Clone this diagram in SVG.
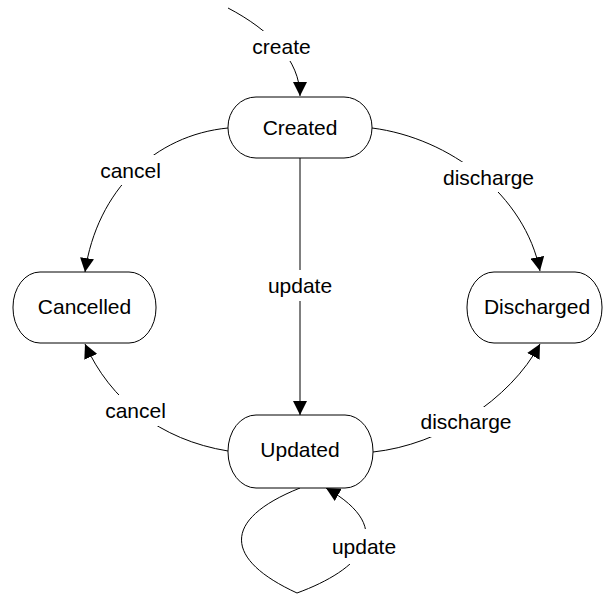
<svg xmlns="http://www.w3.org/2000/svg" width="603" height="594" viewBox="0 0 603 594">
  <defs>
    <marker id="arrow" markerUnits="userSpaceOnUse" markerWidth="14" markerHeight="14" refX="14" refY="7" orient="auto">
      <path d="M0,0 L14,7 L0,14 z" fill="#000"/>
    </marker>
    <style>
      .state { fill: #fff; stroke: #000; stroke-width: 1; }
      .name { font-family: "Liberation Sans", Arial, sans-serif; font-size: 21px; fill: #000; text-anchor: middle; }
      .edge { fill: none; stroke: #000; stroke-width: 1; marker-end: url(#arrow); }
      .lblbg { fill: #fff; }
      .lbl { font-family: "Liberation Sans", Arial, sans-serif; font-size: 21px; fill: #000; text-anchor: middle; }
    </style>
  </defs>
  <rect width="603" height="594" fill="#fff"/>

  <!-- transitions -->
  <g id="edges">
    <path class="edge" d="M228,8 C270,30 300,60 300,96"/>
    <path class="edge" d="M228,128 C155,135 97,190 85,272"/>
    <path class="edge" d="M372,128 C450,138 525,195 540,271"/>
    <path class="edge" d="M300,158 L300,415"/>
    <path class="edge" d="M228,451 C160,440 110,400 85,344"/>
    <path class="edge" d="M373,452 C440,445 510,400 540,344"/>
    <path class="edge" d="M300,488 C220,520 225,560 297,593 C360,570 400,530 326,488"/>

    <!-- transition labels -->
    <rect class="lblbg" x="251" y="31" width="61" height="30"/>
    <text class="lbl" x="281.5" y="54">create</text>
    <rect class="lblbg" x="98" y="155" width="65" height="30"/>
    <text class="lbl" x="130.5" y="178">cancel</text>
    <rect class="lblbg" x="441" y="162" width="95" height="30"/>
    <text class="lbl" x="488.5" y="185">discharge</text>
    <rect class="lblbg" x="264" y="270" width="72" height="31"/>
    <text class="lbl" x="300" y="293">update</text>
    <rect class="lblbg" x="103" y="395" width="65" height="31"/>
    <text class="lbl" x="135.5" y="418">cancel</text>
    <rect class="lblbg" x="418" y="407" width="96" height="30"/>
    <text class="lbl" x="466" y="429">discharge</text>
    <rect class="lblbg" x="331" y="529" width="66" height="35"/>
    <text class="lbl" x="364" y="554">update</text>
  </g>

  <!-- states -->
  <g id="created">
    <rect class="state" x="228" y="97" width="144" height="61" rx="28" ry="30"/>
    <text class="name" x="300" y="135">Created</text>
  </g>
  <g id="cancelled">
    <rect class="state" x="13" y="272" width="143" height="71" rx="27" ry="35"/>
    <text class="name" x="84.5" y="314">Cancelled</text>
  </g>
  <g id="discharged">
    <rect class="state" x="467" y="272" width="135" height="71" rx="27" ry="35"/>
    <text class="name" x="537" y="314">Discharged</text>
  </g>
  <g id="updated">
    <rect class="state" x="228" y="415" width="145" height="73" rx="28" ry="36"/>
    <text class="name" x="300" y="457">Updated</text>
  </g>
</svg>
